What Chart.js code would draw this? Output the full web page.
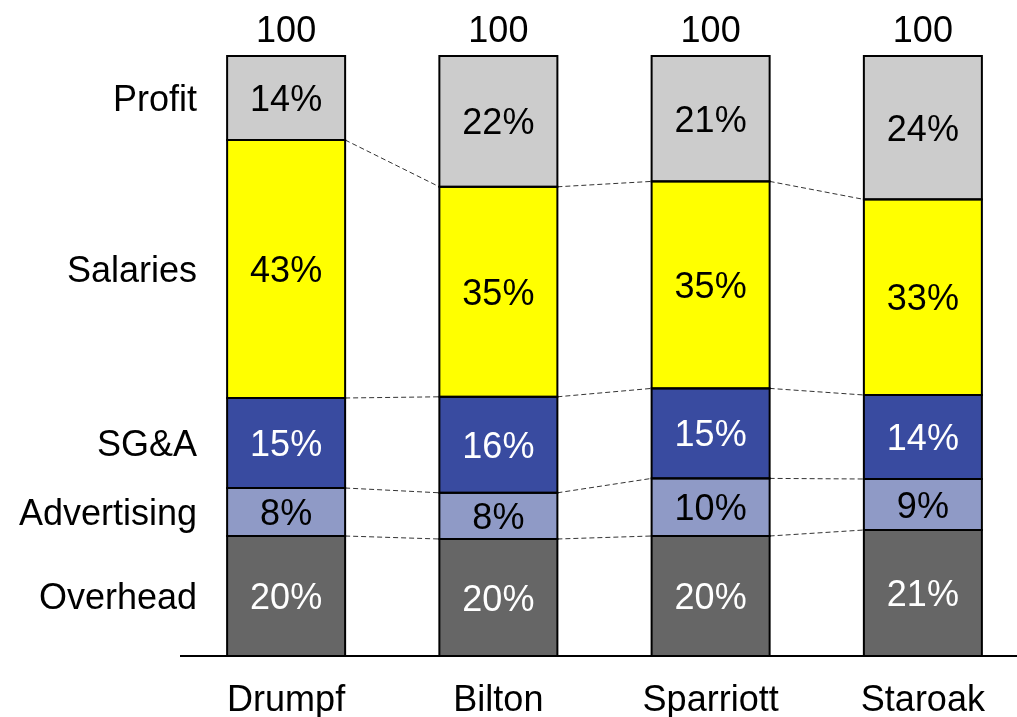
<!DOCTYPE html>
<html>
<head>
<meta charset="utf-8">
<script src="https://cdn.jsdelivr.net/npm/chart.js@4"></script>
<style>
  html, body { margin: 0; padding: 0; background: #ffffff; overflow: hidden; }
  #wrap { width: 1017px; height: 717px; overflow: hidden; position: relative; }
  canvas { display: block; }
</style>
</head>
<body>
<div id="wrap"><canvas id="c" width="1029" height="717"></canvas></div>
<script>
const categories = ['Drumpf', 'Bilton', 'Sparriott', 'Staroak'];
const seriesNames = ['Overhead', 'Advertising', 'SG&A', 'Salaries', 'Profit'];
const overhead    = [20, 19.5, 20, 21];
const advertising = [8, 7.7, 9.6, 8.5];
const sga         = [15, 16, 15, 14];
const salaries    = [43, 35, 34.5, 32.6];
const profit      = [14, 21.8, 20.9, 23.9];

const seriesValues = [overhead, advertising, sga, salaries, profit];
const fillColors = ['#666666', '#8f9ac6', '#394ba0', '#ffff00', '#cccccc'];
const textColors = ['#ffffff', '#000000', '#ffffff', '#000000', '#000000'];
const FONT = '36px "Liberation Sans", Arial, sans-serif';
const CAP = 13;

const overlay = {
  id: 'overlay',
  afterDatasetsDraw(chart) {
    const ctx = chart.ctx;
    const area = chart.chartArea;
    const yScale = chart.scales.y;
    const metas = chart.data.datasets.map((d, i) => chart.getDatasetMeta(i));
    ctx.save();

    // dashed connectors between adjacent bars at segment boundaries
    ctx.strokeStyle = '#333333';
    ctx.lineWidth = 1;
    ctx.setLineDash([5, 3]);
    for (let d = 0; d < metas.length - 1; d++) {
      const els = metas[d].data;
      for (let i = 0; i < els.length - 1; i++) {
        const a = els[i], b = els[i + 1];
        ctx.beginPath();
        ctx.moveTo(a.x + a.width / 2, a.y);
        ctx.lineTo(b.x - b.width / 2, b.y);
        ctx.stroke();
      }
    }
    ctx.setLineDash([]);

    // bar outlines
    ctx.strokeStyle = '#000000';
    ctx.lineWidth = 2;
    metas.forEach(meta => {
      meta.data.forEach(el => {
        const top = Math.min(el.y, el.base), h = Math.abs(el.base - el.y);
        ctx.strokeRect(el.x - el.width / 2, top, el.width, h);
      });
    });

    // axis line
    const y0 = yScale.getPixelForValue(0);
    ctx.beginPath();
    ctx.moveTo(area.left, y0);
    ctx.lineTo(chart.width, y0);
    ctx.stroke();

    ctx.font = FONT;
    ctx.textBaseline = 'alphabetic';

    // percent labels
    ctx.textAlign = 'center';
    metas.forEach((meta, d) => {
      ctx.fillStyle = textColors[d];
      meta.data.forEach((el, i) => {
        const v = seriesValues[d][i];
        ctx.fillText(Math.round(v) + '%', el.x, (el.y + el.base) / 2 + CAP);
      });
    });

    // totals above bars and category labels below
    ctx.fillStyle = '#000000';
    categories.forEach((c, i) => {
      const total = seriesValues.reduce((s, arr) => s + arr[i], 0);
      const el = metas[0].data[i];
      ctx.fillText(String(Math.round(total)), el.x, yScale.getPixelForValue(total) - 14);
      ctx.fillText(c, el.x, y0 + 55);
    });

    // series labels on the left, aligned with first bar
    ctx.textAlign = 'right';
    metas.forEach((meta, d) => {
      const el = meta.data[0];
      ctx.fillText(seriesNames[d], area.left + 17, (el.y + el.base) / 2 + CAP);
    });

    ctx.restore();
  }
};

new Chart(document.getElementById('c'), {
  type: 'bar',
  data: {
    labels: categories,
    datasets: seriesNames.map((name, d) => ({
      label: name,
      data: seriesValues[d],
      backgroundColor: fillColors[d],
      borderWidth: 0,
      barPercentage: 0.556,
      categoryPercentage: 1.0
    }))
  },
  options: {
    responsive: false,
    animation: false,
    devicePixelRatio: 1,
    layout: { padding: { left: 180, right: 0, top: 56, bottom: 61 } },
    plugins: { legend: { display: false }, tooltip: { enabled: false } },
    scales: {
      x: { stacked: true, display: false },
      y: { stacked: true, display: false, min: 0, max: 100 }
    }
  },
  plugins: [overlay]
});
</script>
</body>
</html>
